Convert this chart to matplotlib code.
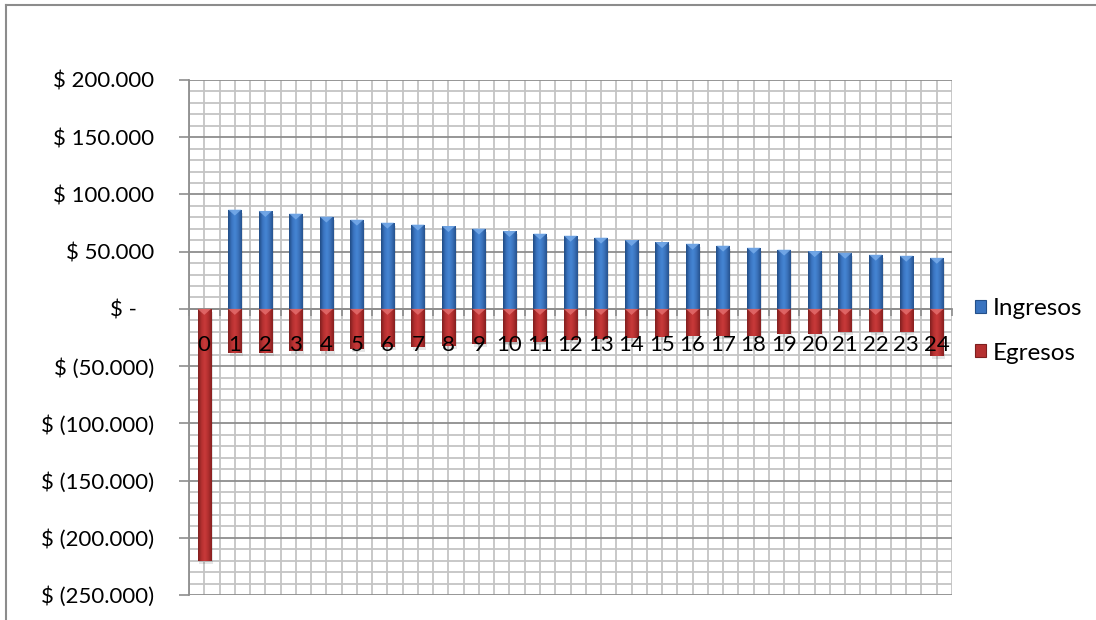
import numpy as np
import matplotlib
matplotlib.use("Agg")
import matplotlib.pyplot as plt
from matplotlib.ticker import MultipleLocator, FuncFormatter, FixedLocator, NullFormatter
from matplotlib.patches import Patch, Polygon
from matplotlib.lines import Line2D
from matplotlib.colors import LinearSegmentedColormap

# Flujo de caja por periodo
periodos = list(range(25))
ingresos = [0, 86800, 85600, 83300, 80700, 78000, 75400, 73700, 72400, 70200,
            68100, 65800, 64000, 62300, 60200, 58400, 57000, 55300, 53500, 51800,
            50500, 49100, 47400, 46500, 44700]
egresos = [-220000, -38600, -38500, -37000, -36500, -35300, -33500, -33000, -32500, -30500,
           -29300, -28500, -27600, -26400, -25800, -24700, -24100, -23500, -23500, -22300,
           -21700, -20500, -20500, -20000, -41600]
series_names = ["Ingresos", "Egresos"]
y_ticks = list(range(-250000, 200001, 50000))

plt.rcParams['font.family'] = ['Lato', 'DejaVu Sans']

fig = plt.figure(figsize=(10.96, 6.2), dpi=100)
ax = fig.add_axes([189 / 1096, 1 - 595 / 620, (952 - 189) / 1096, (595 - 80) / 620])

ymin, ymax = -250000, 200000
ax.set_xlim(-0.5, len(periodos) - 0.5)
ax.set_ylim(ymin, ymax)

bar_w = 0.44
blue_cmap = LinearSegmentedColormap.from_list(
    "azul", ["#1f4a82", "#3a74c0", "#4686d4", "#3a72bb", "#25528e"])
red_cmap = LinearSegmentedColormap.from_list(
    "rojo", ["#7e1f1f", "#b53030", "#c93a3a", "#b02e2e", "#861f1f"])
grad = np.linspace(0, 1, 64).reshape(1, -1)

# px -> data units (vertical) for the bevelled tips
px = (ymax - ymin) / 515.0


def draw_series(values, base, cmap, tip_color):
    bars = ax.bar(periodos, values, width=bar_w, color=base, zorder=3, linewidth=0)
    for b, v in zip(bars, values):
        if v == 0:
            continue
        x0 = b.get_x()
        x1 = x0 + b.get_width()
        y0, y1 = sorted([0, v])
        # soft drop shadow
        ax.add_patch(plt.Rectangle((x0 + 0.05, y0 - 3 * px), x1 - x0, y1 - y0,
                                   facecolor="#000000", alpha=0.10, linewidth=0,
                                   zorder=2.5))
        im = ax.imshow(grad, cmap=cmap, extent=[x0, x1, y0, y1], aspect="auto",
                       zorder=3.1, interpolation="bicubic")
        im.set_clip_path(b)
        # bevelled tip at the upper end of the bar
        top = y1
        h = 6 * px
        tri = Polygon([[x0, top], [x1, top], [(x0 + x1) / 2, top - h]],
                      closed=True, facecolor=tip_color, edgecolor="none",
                      alpha=0.75, zorder=3.2)
        ax.add_patch(tri)


draw_series(ingresos, "#3a72bb", blue_cmap, "#7fb2ee")
draw_series(egresos, "#b53030", red_cmap, "#e87474")

# grid
ax.yaxis.set_major_locator(FixedLocator(y_ticks))
ax.yaxis.set_minor_locator(MultipleLocator(10000))
ax.xaxis.set_major_locator(FixedLocator(periodos))
ax.xaxis.set_minor_locator(FixedLocator(np.arange(-0.5, len(periodos), 1.0)))
ax.set_axisbelow(True)
ax.grid(which="minor", axis="y", color="#c4c4c4", linewidth=1.3, zorder=0)
ax.grid(which="major", axis="y", color="#8e8e8e", linewidth=1.3, zorder=0.5)
ax.grid(which="both", axis="x", color="#c4c4c4", linewidth=1.3, zorder=0)


def money(v, pos):
    if v == 0:
        return "$ -   "
    if v < 0:
        return "$ ({:,.0f})".format(-v).replace(",", ".")
    return "$ {:,.0f}".format(v).replace(",", ".")


ax.yaxis.set_major_formatter(FuncFormatter(money))
ax.tick_params(axis="y", which="major", length=7, width=1.2, color="#8e8e8e",
               labelsize=16, pad=18, labelcolor="#000000")
ax.tick_params(axis="y", which="minor", length=0)

ax.spines["bottom"].set_position(("data", 0))
ax.spines["bottom"].set_color("#8e8e8e")
ax.spines["bottom"].set_linewidth(1.3)
ax.spines["left"].set_color("#8e8e8e")
ax.spines["left"].set_linewidth(1.3)
ax.spines["top"].set_visible(False)
ax.spines["right"].set_visible(False)

ax.xaxis.set_major_formatter(NullFormatter())
ax.tick_params(axis="x", which="major", length=0)
ax.tick_params(axis="x", which="minor", length=5, width=1.2, color="#8e8e8e",
               direction="out")

# category labels sit just under the zero line, on top of the bars
for p in periodos:
    ax.annotate(str(p), xy=(p, 0), xytext=(0, -30.5), textcoords="offset points",
                ha="center", va="baseline", fontsize=16, color="#000000", zorder=6)

# legend
handles = [Patch(facecolor="#3a74c0", edgecolor="#24508a", linewidth=0.8),
           Patch(facecolor="#b53030", edgecolor="#7e1f1f", linewidth=0.8)]
fig.legend(handles, series_names, loc="center left",
           bbox_to_anchor=(963 / 1096, 1 - 331 / 620), frameon=False,
           fontsize=17.5, handlelength=0.45, handleheight=0.45, handletextpad=0.28,
           labelspacing=0.95, borderpad=0)

# outer chart border
bc = "#8c8c8c"
fig.add_artist(Line2D([6 / 1096, 1], [1 - 4.5 / 620, 1 - 4.5 / 620],
                      transform=fig.transFigure, color=bc, linewidth=1.5))
fig.add_artist(Line2D([6 / 1096, 6 / 1096], [0, 1 - 4.5 / 620],
                      transform=fig.transFigure, color=bc, linewidth=1.5))

fig.savefig("out.png", dpi=100, facecolor="white")
